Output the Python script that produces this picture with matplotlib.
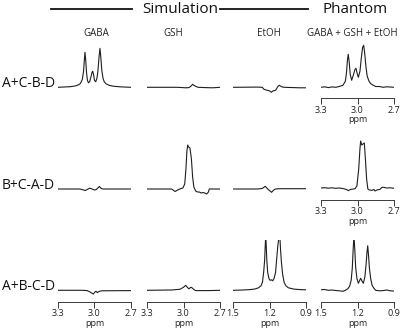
import matplotlib
matplotlib.use("Agg")
import matplotlib.pyplot as plt
from matplotlib.lines import Line2D

plt.rcParams['font.family'] = ['Open Sans', 'DejaVu Sans']

# ---------------- data (intensity in arbitrary units, baseline = 0) ----------------
row_labels = ["A+C-B-D", "B+C-A-D", "A+B-C-D"]
col_titles = ["GABA", "GSH", "EtOH", "GABA + GSH + EtOH"]
group_titles = ["Simulation", "Phantom"]

ticks_gsh = [3.3, 3.0, 2.7]
ticks_etoh = [1.5, 1.2, 0.9]
tick_labels_gsh = ["3.3", "3.0", "2.7"]
tick_labels_etoh = ["1.5", "1.2", "0.9"]

# Row 1 : A+C-B-D  (GABA-edited)
r1_gaba_ppm = [3.30, 3.20, 3.16, 3.13, 3.115, 3.10, 3.09, 3.083, 3.078, 3.072, 3.065, 3.058, 3.05,
               3.04, 3.03, 3.02, 3.015, 3.008, 3.00, 2.99, 2.98, 2.972, 2.963, 2.955, 2.948, 2.94,
               2.93, 2.92, 2.905, 2.88, 2.84, 2.78, 2.70]
r1_gaba_val = [0, 0.6, 1.3, 2.5, 4, 8, 16, 28, 35, 27, 14, 7, 4.5,
               5.5, 10, 15, 16, 13, 7, 5.5, 9, 16, 30, 39, 30, 17,
               9, 5.5, 3.5, 2, 1, 0.4, 0]
r1_gsh_ppm = [3.30, 3.05, 2.98, 2.955, 2.94, 2.925, 2.915, 2.90, 2.88, 2.82, 2.76, 2.70]
r1_gsh_val = [0, 0, -0.5, -0.3, 1, 3, 2, 1, 0, -0.3, -0.5, 0]
r1_etoh_ppm = [1.50, 1.30, 1.26, 1.245, 1.22, 1.20, 1.185, 1.17, 1.15, 1.13, 1.12, 1.10, 1.08, 0.95, 0.90]
r1_etoh_val = [0, 0.2, 0, -2, -3, -3.5, -5, -3.5, -3, 1, 2, 0.5, 0, -0.5, -0.5]
r1_ph_ppm = [3.30, 3.27, 3.24, 3.21, 3.18, 3.15, 3.12, 3.10, 3.09, 3.083, 3.076, 3.068, 3.06, 3.048,
             3.035, 3.02, 3.012, 3.003, 2.993, 2.98, 2.968, 2.958, 2.949, 2.94, 2.93, 2.92, 2.905,
             2.89, 2.87, 2.85, 2.82, 2.79, 2.76, 2.73, 2.70]
r1_ph_val = [0, 0.5, -0.3, 0.4, 0, 0.8, 2, 6, 15, 27, 33, 25, 13, 7,
             12, 18, 19, 14, 10, 16, 30, 40, 42, 33, 20, 11, 6,
             3.5, 2, 0.8, 0.8, 0, 0.5, 0.3, 0]

# Row 2 : B+C-A-D  (GSH-edited)
r2_gaba_ppm = [3.30, 3.12, 3.09, 3.075, 3.06, 3.04, 3.02, 3.00, 2.985, 2.96, 2.945, 2.93, 2.70]
r2_gaba_val = [0, 0, -1, -1.5, -0.5, 0.8, 0, -1, -0.5, 2.5, 0.5, 0, 0]
r2_gsh_ppm = [3.30, 3.10, 3.085, 3.07, 3.055, 3.04, 3.02, 3.005, 2.99, 2.98, 2.972, 2.965, 2.958,
              2.947, 2.935, 2.925, 2.915, 2.90, 2.885, 2.87, 2.855, 2.84, 2.825, 2.81, 2.795, 2.788,
              2.76, 2.70]
r2_gsh_val = [0, 0, -1, -2.5, -1.5, -0.5, 0.5, 1, 5, 20, 38, 44, 42,
              41, 30, 12, 2, -2, -3, -3, -4, -3.5, -4, -5, -3, 0,
              0, 0]
r2_etoh_ppm = [1.50, 1.30, 1.26, 1.235, 1.21, 1.183, 1.165, 1.15, 1.12, 0.90]
r2_etoh_val = [0, 0, 0.5, 2.7, -0.5, -3.3, -1, 0, 0.3, 0.3]
r2_ph_ppm = [3.30, 3.27, 3.24, 3.21, 3.18, 3.15, 3.12, 3.09, 3.076, 3.06, 3.035, 3.02, 3.005, 2.99,
             2.98, 2.974, 2.965, 2.955, 2.944, 2.935, 2.925, 2.915, 2.903, 2.88, 2.865, 2.856, 2.84,
             2.815, 2.80, 2.79, 2.76, 2.73, 2.70]
r2_ph_val = [1, 1.3, 0.8, 1.2, 0.7, 1, 0.5, -0.5, -1.7, -0.5, 0, 0.3, 3, 20,
             40, 48, 44, 45, 46, 30, 10, 0, -1, -1.3, -0.5, -2, -1,
             -0.3, 1.5, 1.8, 1, 1.2, 0.7]

# Row 3 : A+B-C-D  (EtOH-edited)
r3_gaba_ppm = [3.30, 3.10, 3.06, 3.04, 3.02, 3.01, 2.995, 2.988, 2.977, 2.96, 2.94, 2.70]
r3_gaba_val = [0, 0, -0.3, -1.5, -3, -3.7, -1.5, -1, -2.3, -1, -0.5, -0.3]
r3_gsh_ppm = [3.30, 3.10, 3.03, 3.00, 2.982, 2.965, 2.955, 2.94, 2.933, 2.915, 2.90, 2.80, 2.70]
r3_gsh_val = [0, 0.3, 1, 3, 5, 2.5, 1.5, 3, 2.8, 0.8, -0.3, -0.3, 0]
r3_etoh_ppm = [1.50, 1.42, 1.36, 1.32, 1.29, 1.27, 1.258, 1.248, 1.24, 1.236, 1.231, 1.226, 1.222,
               1.215, 1.205, 1.196, 1.185, 1.174, 1.162, 1.15, 1.142, 1.132, 1.124, 1.119, 1.114,
               1.11, 1.102, 1.092, 1.08, 1.065, 1.045, 1.00, 0.95, 0.90]
r3_etoh_val = [0, 0.3, 0.7, 1.3, 2.5, 4.5, 8, 18, 30, 42, 55, 42, 30,
               18, 12, 10, 10.5, 9.5, 12, 18, 30, 44, 52, 56, 52,
               42, 28, 16, 8, 4.5, 2.5, 1.2, 0.7, 0.5]
r3_ph_ppm = [1.50, 1.47, 1.44, 1.41, 1.38, 1.35, 1.32, 1.30, 1.28, 1.265, 1.252, 1.243, 1.236,
             1.229, 1.222, 1.215, 1.205, 1.193, 1.174, 1.162, 1.152, 1.14, 1.13, 1.122, 1.116,
             1.11, 1.102, 1.092, 1.08, 1.065, 1.05, 1.02, 0.99, 0.96, 0.93, 0.90]
r3_ph_val = [0.5, 0.8, 0, 0.3, -0.2, -0.5, -1, 0, 1.5, 4, 10, 22, 40,
             55, 40, 23, 12, 7, 12, 9, 7, 13, 25, 38, 44.5,
             36, 22, 12, 5, 2, 0, -0.5, -0.3, 0.3, -0.5, -0.8]

spectra = [
    [(r1_gaba_ppm, r1_gaba_val), (r1_gsh_ppm, r1_gsh_val), (r1_etoh_ppm, r1_etoh_val), (r1_ph_ppm, r1_ph_val)],
    [(r2_gaba_ppm, r2_gaba_val), (r2_gsh_ppm, r2_gsh_val), (r2_etoh_ppm, r2_etoh_val), (r2_ph_ppm, r2_ph_val)],
    [(r3_gaba_ppm, r3_gaba_val), (r3_gsh_ppm, r3_gsh_val), (r3_etoh_ppm, r3_etoh_val), (r3_ph_ppm, r3_ph_val)],
]

# ---------------- layout (pixel based) ----------------
W, H = 400, 328
fig = plt.figure(figsize=(W / 100, H / 100), dpi=100)

col_x0 = [58, 147, 233, 321]
col_w = 73
row_base = [87.3, 189.0, 290.3]
row_axis = [98.0, 199.5, 301.7]
ax_h = 62

def fx(px):
    return px / W

def fy(py):
    return 1 - py / H

col_ticks = [ticks_gsh, ticks_gsh, ticks_etoh, ticks_gsh]
col_ticklabels = [tick_labels_gsh, tick_labels_gsh, tick_labels_etoh, tick_labels_gsh]
row3_ticks = [ticks_gsh, ticks_gsh, ticks_etoh, ticks_etoh]
row3_ticklabels = [tick_labels_gsh, tick_labels_gsh, tick_labels_etoh, tick_labels_etoh]

line_col = "#1e1e1e"
axis_col = "#3a3a3a"

for r in range(3):
    for c in range(4):
        ax = fig.add_axes([fx(col_x0[c]), fy(row_axis[r]), col_w / W, ax_h / H])
        off = row_axis[r] - row_base[r]
        ax.set_ylim(-off, -off + ax_h)
        if r == 2:
            tk, tl = row3_ticks[c], row3_ticklabels[c]
        else:
            tk, tl = col_ticks[c], col_ticklabels[c]
        ax.set_xlim(tk[0], tk[-1])
        ppm, val = spectra[r][c]
        ax.plot(ppm, val, color=line_col, lw=0.8, solid_joinstyle="round")
        for s in ["top", "right", "left"]:
            ax.spines[s].set_visible(False)
        ax.set_yticks([])
        ax.patch.set_visible(False)
        show_axis = (r == 2) or (c == 3)
        if show_axis:
            ax.spines["bottom"].set_color(axis_col)
            ax.spines["bottom"].set_linewidth(0.7)
            ax.set_xticks(tk)
            ax.set_xticklabels(tl)
            ax.tick_params(axis="x", direction="out", length=4.5, width=0.7, color=axis_col,
                           labelsize=6.5, pad=1, labelcolor="#222222")
            ax.set_xlabel("ppm", fontsize=6.5, labelpad=0.5, color="#222222")
        else:
            ax.spines["bottom"].set_visible(False)
            ax.set_xticks([])

# row labels
for r in range(3):
    fig.text(fx(1.5), fy(row_base[r]), row_labels[r], fontsize=10, ha="left", va="baseline",
             color="#111111")

# column titles
col_title_x = [96.7, 173.3, 269, 352.5]
for c in range(4):
    fig.text(fx(col_title_x[c]), fy(33), col_titles[c], fontsize=7, ha="center", va="center",
             color="#222222")

# group titles with lines
fig.text(fx(180), fy(9.5), group_titles[0], fontsize=11, ha="center", va="center", color="#111111")
fig.text(fx(355), fy(9.5), group_titles[1], fontsize=11, ha="center", va="center", color="#111111")
fig.add_artist(Line2D([fx(51), fx(132)], [fy(9.3), fy(9.3)], color="#111111", lw=1.3))
fig.add_artist(Line2D([fx(220), fx(308)], [fy(9.3), fy(9.3)], color="#111111", lw=1.3))

fig.savefig("out.png", dpi=100)
